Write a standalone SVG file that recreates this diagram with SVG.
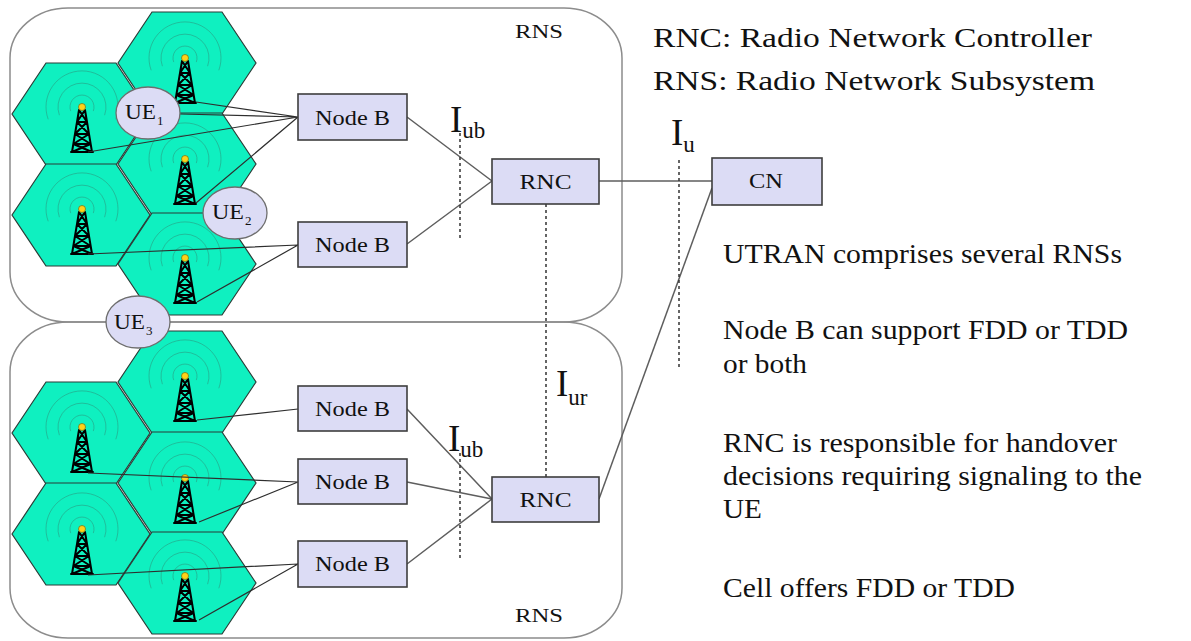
<svg xmlns="http://www.w3.org/2000/svg" xmlns:xlink="http://www.w3.org/1999/xlink" width="1191" height="641" viewBox="0 0 1191 641">
  <style>
    .rns { fill: none; stroke: #8c8c8c; stroke-width: 1.5; }
    .hex { fill: #0ff0c0; stroke: #2b3b36; stroke-width: 1.2; }
    .wave { fill: none; stroke: #2a9c82; stroke-opacity: 0.6; stroke-width: 1; }
    .mast { fill: none; stroke: #000; stroke-width: 2; stroke-linecap: round; }
    .lamp { fill: #ffd21a; stroke: #6b5a00; stroke-width: 0.6; }
    .box { fill: #dcdcf5; stroke: #3e3e3e; stroke-width: 1.6; }
    .ue { fill: #dcdcf5; stroke: #6e6e6e; stroke-width: 1.3; }
    .radio { fill: none; stroke: #2e2e2e; stroke-width: 1.2; }
    .wire { fill: none; stroke: #5e5e5e; stroke-width: 1.5; }
    .iface { fill: none; stroke: #333; stroke-width: 1.5; stroke-dasharray: 3 3; }
    .serif { font-family: "Liberation Serif", "Times New Roman", serif; fill: #111; }
    .lbl { font-size: 20px; text-anchor: middle; }
    .note { font-size: 27px; }
    .head { font-size: 28px; }
    .big { font-size: 37px; }
  </style>
  <defs>
    <polygon id="cell" class="hex" points="-69,0 -35,-51 35,-51 69,0 35,51 -35,51"/>
    <!-- radio mast drawn relative to its lamp at (0,0) -->
    <g id="mast">
      <path class="wave" d="M-11.3,4.1 A12 12 0 1 1 11.3,4.1"/>
      <path class="wave" d="M-22.6,8.2 A24 24 0 1 1 22.6,8.2"/>
      <path class="wave" d="M-33.8,12.3 A36 36 0 1 1 33.8,12.3"/>
      <path class="mast" d="M-3,3 L-10,45 M3,3 L10,45 M-11,45 L11,45 M-5,15 L5,15 M-7,27 L7,27 M-8.6,37 L8.6,37 M-3,3 L5,15 M3,3 L-5,15 M-5,15 L7,27 M5,15 L-7,27 M-7,27 L8.6,37 M7,27 L-8.6,37 M-8.6,37 L10,45 M8.6,37 L-10,45"/>
      <circle class="lamp" cx="0" cy="0" r="3.5"/>
    </g>
  </defs>

  <!-- radio network subsystems -->
  <g id="rns-upper">
    <rect class="rns" x="10" y="8" width="612" height="314" rx="58" ry="50"/>
    <text class="serif" x="515" y="38" font-size="18" textLength="48" lengthAdjust="spacingAndGlyphs">RNS</text>
  </g>
  <g id="rns-lower">
    <rect class="rns" x="10" y="322" width="612" height="316" rx="58" ry="50"/>
    <text class="serif" x="515" y="622" font-size="18" textLength="48" lengthAdjust="spacingAndGlyphs">RNS</text>
  </g>

  <!-- cells with their masts -->
  <g id="cells-upper">
    <use xlink:href="#cell" x="81" y="114"/>
    <use xlink:href="#cell" x="187" y="63"/>
    <use xlink:href="#cell" x="187" y="164"/>
    <use xlink:href="#cell" x="81" y="215"/>
    <use xlink:href="#cell" x="187" y="264"/>
    <use xlink:href="#mast" x="82" y="107"/>
    <use xlink:href="#mast" x="185" y="58"/>
    <use xlink:href="#mast" x="185" y="159"/>
    <use xlink:href="#mast" x="82" y="209"/>
    <use xlink:href="#mast" x="185" y="258"/>
  </g>
  <g id="cells-lower">
    <use xlink:href="#cell" x="187" y="382"/>
    <use xlink:href="#cell" x="81" y="433"/>
    <use xlink:href="#cell" x="187" y="483"/>
    <use xlink:href="#cell" x="81" y="534"/>
    <use xlink:href="#cell" x="187" y="583"/>
    <use xlink:href="#mast" x="185" y="376"/>
    <use xlink:href="#mast" x="82" y="427"/>
    <use xlink:href="#mast" x="185" y="478"/>
    <use xlink:href="#mast" x="82" y="529"/>
    <use xlink:href="#mast" x="185" y="576"/>
  </g>

  <!-- connectors -->
  <g id="connectors">
    <!-- radio links to Node B -->
    <path class="radio" d="M88,152 L298,117 M196,102 L298,117 M180,114 L298,117 M196,203 L298,117"/>
    <path class="radio" d="M88,254 L298,245 M197,302 L298,245"/>
    <path class="radio" d="M197,420 L298,409"/>
    <path class="radio" d="M88,473 L298,482 M199,522 L298,482"/>
    <path class="radio" d="M88,575 L298,564 M199,620 L298,564"/>
    <!-- Iub / Iu links -->
    <path class="wire" d="M407,117 L492,181 M407,244 L492,181"/>
    <path class="wire" d="M407,409 L492,499 M407,482 L492,499 M407,564 L492,499"/>
    <path class="wire" d="M599,181 L712,181"/>
    <path class="wire" d="M599,499 L712,188"/>
    <!-- interface markers -->
    <path class="iface" d="M460,133 L460,240"/>
    <path class="iface" d="M460,453 L460,558"/>
    <path class="iface" d="M546,204 L546,477"/>
    <path class="iface" d="M679,160 L679,367"/>
  </g>

  <!-- user equipment -->
  <g id="ue1">
    <ellipse class="ue" cx="148" cy="113" rx="32" ry="26"/>
    <text class="serif" x="125" y="119" font-size="20" textLength="31" lengthAdjust="spacingAndGlyphs">UE</text>
    <text class="serif" x="157" y="125" font-size="13">1</text>
  </g>
  <g id="ue2">
    <ellipse class="ue" cx="235" cy="213" rx="32" ry="26"/>
    <text class="serif" x="212" y="219" font-size="20" textLength="32" lengthAdjust="spacingAndGlyphs">UE</text>
    <text class="serif" x="245" y="225" font-size="13">2</text>
  </g>
  <g id="ue3">
    <ellipse class="ue" cx="138" cy="322" rx="32" ry="26"/>
    <text class="serif" x="114" y="329" font-size="20" textLength="31" lengthAdjust="spacingAndGlyphs">UE</text>
    <text class="serif" x="146" y="335" font-size="13">3</text>
  </g>

  <!-- Node B and controllers -->
  <g id="nodeb-1">
    <rect class="box" x="298" y="94" width="109" height="46"/>
    <text class="serif lbl" x="352.5" y="125" textLength="75" lengthAdjust="spacingAndGlyphs">Node B</text>
  </g>
  <g id="nodeb-2">
    <rect class="box" x="298" y="222" width="109" height="45"/>
    <text class="serif lbl" x="352.5" y="252" textLength="75" lengthAdjust="spacingAndGlyphs">Node B</text>
  </g>
  <g id="nodeb-3">
    <rect class="box" x="298" y="386" width="109" height="45"/>
    <text class="serif lbl" x="352.5" y="416" textLength="75" lengthAdjust="spacingAndGlyphs">Node B</text>
  </g>
  <g id="nodeb-4">
    <rect class="box" x="298" y="459" width="109" height="45"/>
    <text class="serif lbl" x="352.5" y="489" textLength="75" lengthAdjust="spacingAndGlyphs">Node B</text>
  </g>
  <g id="nodeb-5">
    <rect class="box" x="298" y="541" width="109" height="46"/>
    <text class="serif lbl" x="352.5" y="571" textLength="75" lengthAdjust="spacingAndGlyphs">Node B</text>
  </g>
  <g id="rnc-1">
    <rect class="box" x="492" y="159" width="107" height="45"/>
    <text class="serif lbl" x="545.5" y="189" textLength="52" lengthAdjust="spacingAndGlyphs">RNC</text>
  </g>
  <g id="rnc-2">
    <rect class="box" x="492" y="477" width="107" height="45"/>
    <text class="serif lbl" x="545.5" y="507" textLength="52" lengthAdjust="spacingAndGlyphs">RNC</text>
  </g>
  <g id="cn">
    <rect class="box" x="712" y="158" width="110" height="47"/>
    <text class="serif lbl" x="766" y="188" textLength="34" lengthAdjust="spacingAndGlyphs">CN</text>
  </g>

  <!-- interface names -->
  <g id="iface-labels" class="serif">
    <text x="450" y="132" class="big">I<tspan font-size="23" dy="6">ub</tspan></text>
    <text x="448" y="451" class="big">I<tspan font-size="23" dy="6">ub</tspan></text>
    <text x="556" y="396" class="big">I<tspan font-size="23" dy="9">ur</tspan></text>
    <text x="671" y="145" class="big">I<tspan font-size="23" dy="7">u</tspan></text>
  </g>

  <!-- legend and notes -->
  <g id="notes" class="serif">
    <text class="head" x="653" y="47" textLength="439" lengthAdjust="spacingAndGlyphs">RNC: Radio Network Controller</text>
    <text class="head" x="653" y="90" textLength="442" lengthAdjust="spacingAndGlyphs">RNS: Radio Network Subsystem</text>
    <text class="note" x="723" y="263" textLength="399" lengthAdjust="spacingAndGlyphs">UTRAN comprises several RNSs</text>
    <text class="note" x="723" y="339" textLength="405" lengthAdjust="spacingAndGlyphs">Node B can support FDD or TDD</text>
    <text class="note" x="723" y="373" textLength="84" lengthAdjust="spacingAndGlyphs">or both</text>
    <text class="note" x="723" y="452" textLength="394" lengthAdjust="spacingAndGlyphs">RNC is responsible for handover</text>
    <text class="note" x="723" y="485" textLength="419" lengthAdjust="spacingAndGlyphs">decisions requiring signaling to the</text>
    <text class="note" x="723" y="518" textLength="39" lengthAdjust="spacingAndGlyphs">UE</text>
    <text class="note" x="723" y="597" textLength="292" lengthAdjust="spacingAndGlyphs">Cell offers FDD or TDD</text>
  </g>
</svg>
